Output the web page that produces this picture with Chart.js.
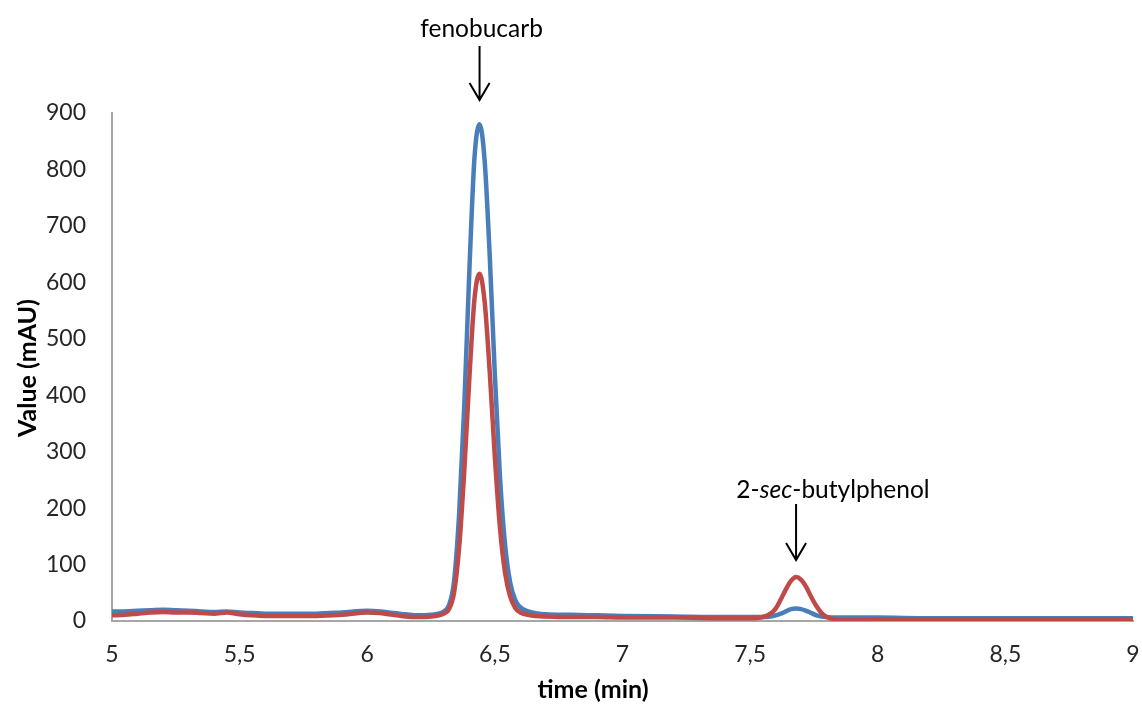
<!DOCTYPE html>
<html>
<head>
<meta charset="utf-8">
<script src="https://cdn.jsdelivr.net/npm/chart.js@4.4.1/dist/chart.umd.min.js"></script>
<style>
html,body{margin:0;padding:0;background:#fff;}
#wrap{width:1142px;height:709px;position:relative;}
</style>
</head>
<body>
<div id="wrap"><canvas id="c" width="1142" height="709"></canvas></div>
<script>
// ---- data ----
const timeMin = [5.00,5.05,5.10,5.15,5.20,5.25,5.30,5.35,5.40,5.45,5.50,5.55,5.60,5.70,5.80,5.90,6.00,6.05,6.10,6.15,6.20,6.25,6.28,6.30,6.32,6.34,6.36,6.38,6.40,6.42,6.44,6.46,6.48,6.50,6.52,6.54,6.56,6.58,6.60,6.63,6.66,6.70,6.80,6.90,7.00,7.20,7.40,7.50,7.55,7.58,7.60,7.62,7.64,7.66,7.68,7.70,7.72,7.74,7.76,7.78,7.80,7.83,7.86,7.90,8.00,8.20,8.40,8.60,8.80,9.00];
const blueValues = [17,17,18,19,20,19,18,17,16,17,15,14,13,13,13,15,18,17,14,12,10,11,13,17,28,70,190,380,620,820,880,815,645,435,255,135,68,37,24,17,14,12,11,10,9,8,7,7,7,8,10,13,17,21,22,21,18,14,10,8,7,6,6,6,6,5,5,5,5,5];
const redValues = [10,11,13,15,16,15,15,14,13,15,12,10,9,9,9,11,15,14,11,8,7,8,10,13,21,50,130,265,430,570,615,565,440,290,165,85,43,23,15,11,9,8,7,7,6,6,5,5,7,13,22,38,56,71,78,73,60,42,26,14,7,3,2,2,3,3,3,3,3,3];
const xTicks = [5,5.5,6,6.5,7,7.5,8,8.5,9];
const yTicks = [0,100,200,300,400,500,600,700,800,900];
const peakLabels = ["fenobucarb","2-sec-butylphenol"];
const peakTimes = [6.44,7.68];
const xTitle = "time (min)";
const yTitle = "Value (mAU)";

const FONT = "Lato, 'Open Sans', sans-serif";

const toPts = (vals) => timeMin.map((t,i)=>({x:t,y:vals[i]}));

const annotPlugin = {
  id:'annot',
  afterDraw(chart){
    const ctx = chart.ctx;
    const xs = chart.scales.x;
    ctx.save();
    ctx.fillStyle = '#000';
    ctx.strokeStyle = '#000';
    ctx.lineWidth = 2;
    // axis titles
    ctx.font = "bold 25px " + FONT;
    ctx.textAlign = 'center';
    ctx.textBaseline = 'middle';
    ctx.fillText(xTitle, 593, 690);
    ctx.save();
    ctx.translate(28, 368);
    ctx.rotate(-Math.PI/2);
    ctx.fillText(yTitle, 0, 0);
    ctx.restore();
    // label 1
    const x1 = xs.getPixelForValue(peakTimes[0]);
    ctx.font = "24.5px " + FONT;
    ctx.textAlign = 'center';
    ctx.fillText(peakLabels[0], x1+2, 29);
    drawArrow(ctx, x1, 46, 100);
    // label 2 with italic "sec"
    const x2 = xs.getPixelForValue(peakTimes[1]);
    const parts = [["2-", "normal"],["sec","italic"],["-butylphenol","normal"]];
    let total = 0;
    parts.forEach(p=>{ctx.font = p[1]+" 24.5px "+FONT; total += ctx.measureText(p[0]).width;});
    let sx = 833 - total/2;
    ctx.textAlign = 'left';
    parts.forEach(p=>{ctx.font = p[1]+" 24.5px "+FONT; ctx.fillText(p[0], sx, 490); sx += ctx.measureText(p[0]).width;});
    drawArrow(ctx, x2, 504, 560);
    ctx.restore();
  }
};
function drawArrow(ctx, x, y0, y1){
  ctx.beginPath();
  ctx.moveTo(x, y0); ctx.lineTo(x, y1);
  ctx.moveTo(x-10, y1-17); ctx.lineTo(x, y1); ctx.lineTo(x+10, y1-17);
  ctx.stroke();
}

new Chart(document.getElementById('c'), {
  type:'line',
  data:{
    datasets:[
      {label:'red', data:toPts(redValues), borderColor:'#BE4B48', borderWidth:4.5, pointRadius:0, cubicInterpolationMode:'monotone', fill:false},
      {label:'blue', data:toPts(blueValues), borderColor:'#4A7EBB', borderWidth:4.5, pointRadius:0, cubicInterpolationMode:'monotone', fill:false}
    ]
  },
  options:{
    responsive:false,
    animation:false,
    events:[],
    layout:{padding:{top:113, right:9, left:0, bottom:0}},
    plugins:{legend:{display:false}, tooltip:{enabled:false}},
    scales:{
      x:{
        type:'linear', min:5, max:9,
        afterBuildTicks(s){ s.ticks = xTicks.map(v=>({value:v})); },
        afterFit(s){ s.height = 88; s.paddingLeft = 0; s.paddingRight = 0; },
        grid:{display:false, drawTicks:false},
        border:{display:true, color:'#A6A6A6', width:2},
        ticks:{padding:20, color:'#262626', font:{family:FONT, size:23}, maxRotation:0,
          callback:(v)=>String(v).replace('.', ',')},
        title:{display:false}
      },
      y:{
        min:0, max:900,
        afterBuildTicks(s){ s.ticks = yTicks.map(v=>({value:v})); },
        afterFit(s){ s.width = 112; s.paddingTop = 0; s.paddingBottom = 0; },
        grid:{display:false, drawTicks:false},
        border:{display:true, color:'#A6A6A6', width:2},
        ticks:{padding:26, color:'#262626', font:{family:FONT, size:23}},
        title:{display:false}
      }
    }
  },
  plugins:[annotPlugin]
});
</script>
</body>
</html>
